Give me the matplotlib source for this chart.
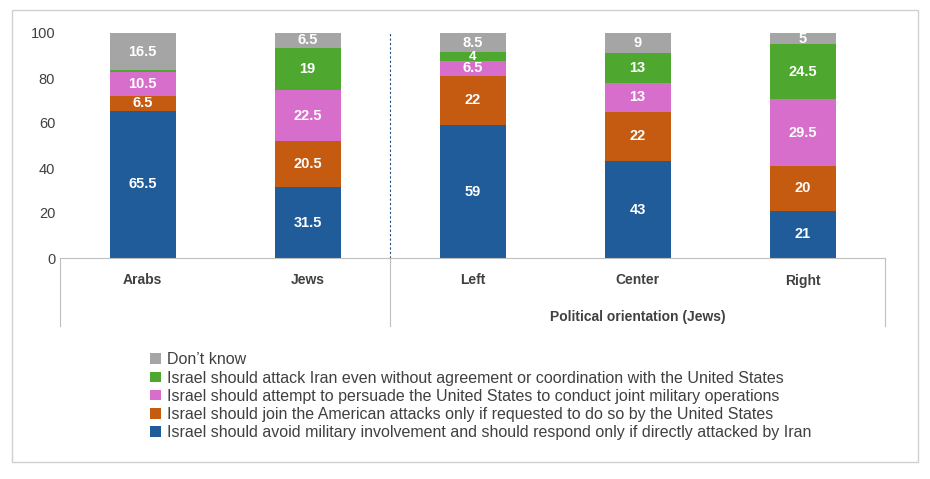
import numpy as np
import matplotlib.pyplot as plt
from matplotlib.patches import Rectangle
from matplotlib.lines import Line2D

categories = ["Arabs", "Jews", "Left", "Center", "Right"]
avoid = [65.5, 31.5, 59, 43, 21]
join = [6.5, 20.5, 22, 22, 20]
persuade = [10.5, 22.5, 6.5, 13, 29.5]
attack = [1, 19, 4, 13, 24.5]
dont_know = [16.5, 6.5, 8.5, 9, 5]

series = [
    ("Israel should avoid military involvement and should respond only if directly attacked by Iran", avoid, "#1F5C99"),
    ("Israel should join the American attacks only if requested to do so by the United States", join, "#C55A11"),
    ("Israel should attempt to persuade the United States to conduct joint military operations", persuade, "#D86ECC"),
    ("Israel should attack Iran even without agreement or coordination with the United States", attack, "#4EA72E"),
    ("Don\u2019t know", dont_know, "#A5A5A5"),
]

plt.rcParams['font.family'] = ['Liberation Sans', 'DejaVu Sans']
fig = plt.figure(figsize=(9.3, 4.79), dpi=100)
fig.patches.append(Rectangle((12/930, 1-462/479), 906/930, 452/479, transform=fig.transFigure,
                             fill=False, edgecolor="#D0D0D0", lw=1))
ax = fig.add_axes([60/930, 1-258/479, 825/930, 225/479])

x = np.arange(len(categories))
bottom = np.zeros(len(categories))
handles = []
for name, vals, col in series:
    vals = np.array(vals, dtype=float)
    bars = ax.bar(x, vals, 0.4, bottom=bottom, color=col, label=name)
    for xi, b, v in zip(x, bottom, vals):
        if v >= 2:
            ax.text(xi, b + v / 2, f"{v:g}", ha="center", va="center", color="white",
                    fontsize=10.5 if v >= 5 else 9.5, fontweight="bold")
    bottom += vals
    handles.append(bars)

ax.set_xlim(-0.5, 4.5)
ax.set_ylim(0, 100)
ax.set_yticks(range(0, 101, 20))
ax.tick_params(axis="y", length=0, labelsize=10.5, colors="#404040")
ax.set_xticks([])
for s in ["top", "right", "left"]:
    ax.spines[s].set_visible(False)
ax.spines["bottom"].set_color("#BFBFBF")
ax.axvline(1.5, color="#1F4E79", ls=(0, (2, 2)), lw=0.8)

# category axis below
tr = ax.get_xaxis_transform()
for xi, c in zip(x, categories):
    ax.text(xi, -0.1, c, transform=tr, ha="center", va="center", fontsize=10,
            fontweight="bold", color="#404040")
ax.text(3, -0.26, "Political orientation (Jews)", transform=tr, ha="center", va="center",
        fontsize=10, fontweight="bold", color="#404040")
for xv in [-0.5, 1.5, 4.5]:
    ax.add_line(Line2D([xv, xv], [0, -0.3], transform=tr, color="#BFBFBF", lw=0.8, clip_on=False))

fig.legend(handles[::-1], [s[0] for s in series][::-1], loc="upper left",
           bbox_to_anchor=(136/930, 1-338/479), frameon=False, fontsize=11.5,
           handlelength=0.65, handleheight=0.65, handletextpad=0.4, labelspacing=0.2,
           labelcolor="#404040")

fig.savefig("out.png", dpi=100)
